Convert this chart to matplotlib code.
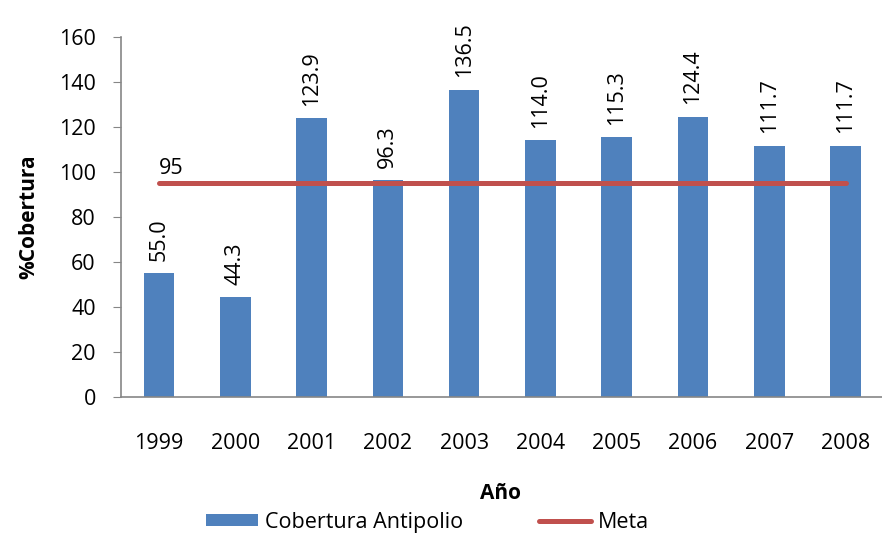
import numpy as np
import matplotlib
matplotlib.use('Agg')
import matplotlib.pyplot as plt

plt.rcParams['font.family'] = ['Open Sans', 'DejaVu Sans']

years = ['1999', '2000', '2001', '2002', '2003', '2004', '2005', '2006', '2007', '2008']
cobertura = [55.0, 44.3, 123.9, 96.3, 136.5, 114.0, 115.3, 124.4, 111.7, 111.7]
meta = [95] * len(years)

fs = 15.5
fig = plt.figure(figsize=(8.82, 5.33), dpi=100)
ax = fig.add_axes([0.137, 0.255, 0.865, 0.676])

x = np.arange(len(years))
bars = ax.bar(x, cobertura, width=0.4, color='#4F81BD', label='Cobertura Antipolio', zorder=2)
line, = ax.plot(x, meta, color='#C0504D', lw=3.6, solid_capstyle='round', label='Meta', zorder=3)

# rotated value labels over each bar
for xi, v in zip(x, cobertura):
    ax.annotate(f'{v:.1f}', (xi, v), xytext=(0, 9), textcoords='offset points',
                rotation=90, ha='center', va='bottom', fontsize=fs)
ax.annotate(f'{meta[0]}', (x[0], meta[0]), xytext=(0, 3), textcoords='offset points',
            ha='left', va='bottom', fontsize=fs)

ax.set_xlim(-0.5, len(years) - 0.5)
ax.set_ylim(0, 160)
ax.set_yticks(np.arange(0, 161, 20))
ax.set_xticks(x)
ax.set_xticklabels(years)
ax.tick_params(axis='y', labelsize=fs, length=6, color='#868686', pad=12)
ax.tick_params(axis='x', labelsize=fs, length=0, pad=26)
for s in ['top', 'right']:
    ax.spines[s].set_visible(False)
for s in ['left', 'bottom']:
    ax.spines[s].set_color('#868686')
    ax.spines[s].set_linewidth(1.2)

ax.set_ylabel('%Cobertura', fontsize=fs - 0.5, fontweight='bold', labelpad=14)
fig.text(0.567, 0.075, 'Año', ha='center', va='center', fontsize=fs - 0.5, fontweight='bold')

fig.legend([bars, line], ['Cobertura Antipolio', 'Meta'], loc='center',
           bbox_to_anchor=(0.485, 0.02), ncol=2, frameon=False, fontsize=fs,
           handlelength=2.4, handleheight=0.45, columnspacing=3.5, handletextpad=0.35)

fig.savefig('out.png', dpi=100)
